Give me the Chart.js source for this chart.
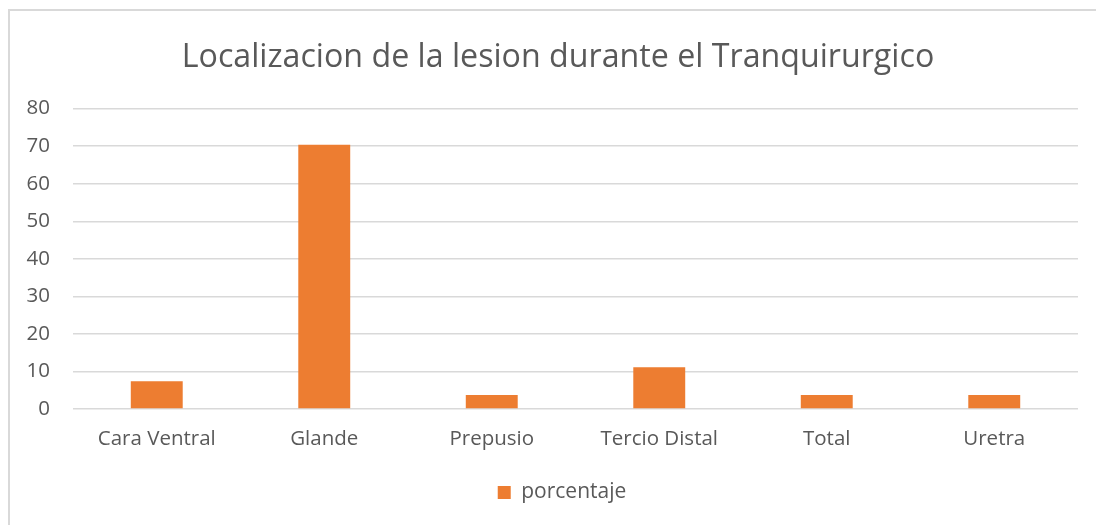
<!DOCTYPE html>
<html>
<head>
<meta charset="utf-8">
<script src="https://cdn.jsdelivr.net/npm/chart.js@4/dist/chart.umd.min.js"></script>
<style>
html,body{margin:0;padding:0;background:#fff;overflow:hidden;}
#wrap{position:relative;width:1096px;height:525px;}
#frame{position:absolute;left:8px;top:9px;width:1200px;height:700px;border:2px solid #d9d9d9;box-sizing:border-box;}
canvas{position:absolute;left:0;top:0;}
</style>
</head>
<body>
<div id="wrap">
<div id="frame"></div>
<canvas id="c" width="1096" height="525"></canvas>
</div>
<script>
const title = "Localizacion de la lesion durante el Tranquirurgico";
const categories = ["Cara Ventral","Glande","Prepusio","Tercio Distal","Total","Uretra"];
const seriesName = "porcentaje";
const porcentaje = [7.4, 70.4, 3.7, 11.1, 3.7, 3.7];
const yTicks = [0,10,20,30,40,50,60,70,80];

const FONT = "'Open Sans', sans-serif";
const TXT = "#595959";

const shiftBlocks = {
  id: 'shiftBlocks',
  afterLayout(chart) {
    if (chart.titleBlock) chart.titleBlock.left = 38;
    if (chart.legend) chart.legend.left = 46;
  }
};

new Chart(document.getElementById('c'), {
  type: 'bar',
  data: {
    labels: categories,
    datasets: [{
      label: seriesName,
      data: porcentaje,
      backgroundColor: '#ED7D31',
      borderWidth: 0,
      barPercentage: 1,
      categoryPercentage: 0.31
    }]
  },
  plugins: [shiftBlocks],
  options: {
    responsive: false,
    animation: false,
    layout: { padding: { left: 0, right: 18, top: 39, bottom: 12 } },
    plugins: {
      title: {
        display: true, text: title, color: TXT,
        font: { family: FONT, size: 32.2, weight: 'normal' },
        padding: { top: 0, bottom: 31 }
      },
      legend: {
        position: 'bottom',
        labels: { color: TXT, font: { family: FONT, size: 21 }, boxWidth: 13, boxHeight: 13, padding: 10 }
      },
      tooltip: { enabled: false }
    },
    scales: {
      x: {
        grid: { display: false, drawTicks: false },
        border: { display: false },
        ticks: { color: TXT, font: { family: FONT, size: 20.5 }, padding: 18, maxRotation: 0 },
        afterFit: s => { s.height = 63; }
      },
      y: {
        min: 0, max: 80,
        afterBuildTicks: s => { s.ticks = yTicks.map(v => ({ value: v })); },
        grid: { color: '#d9d9d9', lineWidth: 1.5, drawTicks: false },
        border: { display: false },
        ticks: { color: TXT, font: { family: FONT, size: 20.5 }, padding: 23 },
        afterFit: s => { s.width = 73; }
      }
    }
  }
});
</script>
</body>
</html>
